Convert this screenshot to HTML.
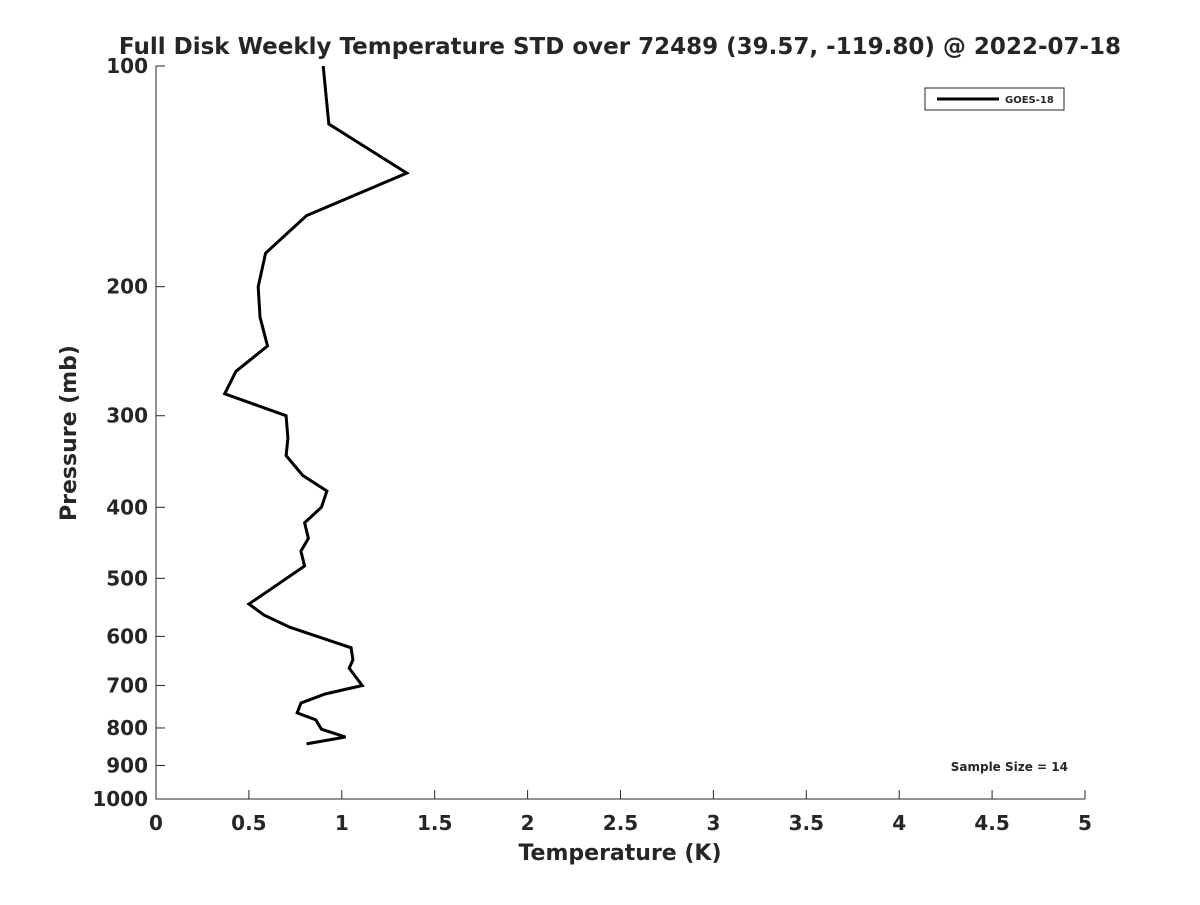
<!DOCTYPE html>
<html><head><meta charset="utf-8"><style>
body{margin:0;background:#fff;}
svg text{font-family:"DejaVu Sans","Liberation Sans",sans-serif;font-weight:bold;fill:#262626;}
</style></head><body>
<svg id="chart" width="1200" height="900" xmlns="http://www.w3.org/2000/svg">
<rect width="1200" height="900" fill="#fff"/>
<text x="620" y="54" text-anchor="middle" font-size="23" fill="#000">Full Disk Weekly Temperature STD over 72489 (39.57, -119.80) @ 2022-07-18</text>
<g id="axes"></g>
<polyline id="series" fill="none" stroke="#000" stroke-width="3"/>
<g>
<rect x="925" y="88" width="139" height="22" fill="#fff" stroke="#262626" stroke-width="1"/>
<line x1="937" y1="99" x2="999" y2="99" stroke="#000" stroke-width="3"/>
<text x="1005" y="103" font-size="10" fill="#000">GOES-18</text>
</g>
<text x="1068" y="771" text-anchor="end" font-size="12" fill="#000">Sample Size = 14</text>
<text x="620" y="860" text-anchor="middle" font-size="22">Temperature (K)</text>
<text transform="translate(76,433) rotate(-90)" text-anchor="middle" font-size="22">Pressure (mb)</text>
</svg>
<script>
const temps=[0.90,0.93,1.35,0.81,0.59,0.55,0.56,0.60,0.43,0.37,0.70,0.71,0.70,0.79,0.92,0.89,0.80,0.82,0.78,0.80,0.61,0.50,0.58,0.72,1.05,1.06,1.04,1.11,0.91,0.78,0.76,0.86,0.89,1.02,0.81];
const pressures=[100,120,140,160,180,200,220,241,261,280,300,322,340,362,380,400,420,441,459,481,519,542,561,583,622,646,663,700,719,740,763,780,803,823,841];
const xTicks=[0,0.5,1,1.5,2,2.5,3,3.5,4,4.5,5];
const xTickLabels=["0","0.5","1","1.5","2","2.5","3","3.5","4","4.5","5"];
const yTicks=[100,200,300,400,500,600,700,800,900,1000];
const X0=156,X1=1085,Y0=66,Y1=799;
const xs=t=>X0+(t-0)/5*(X1-X0);
const ys=p=>Y0+Math.log10(p/100)*(Y1-Y0);
const NS="http://www.w3.org/2000/svg";
const g=document.getElementById('axes');
function mk(tag,attrs){const e=document.createElementNS(NS,tag);for(const k in attrs)e.setAttribute(k,attrs[k]);return e;}
let ax=mk('path',{d:`M${X0},${Y0}V${Y1}H${X1}`,fill:'none',stroke:'#262626','stroke-width':1});


g.appendChild(ax);
xTicks.forEach((t,i)=>{
 const x=xs(t);
 let l=mk('line',{x1:x,y1:Y1,x2:x,y2:Y1-9,stroke:'#262626'});
 
 
 g.appendChild(l);
 let tx=mk('text',{x:x,y:830,'text-anchor':'middle','font-size':20});
 tx.textContent=xTickLabels[i];
 
 
 g.appendChild(tx);
});
yTicks.forEach(p=>{
 const y=ys(p);
 let l=mk('line',{x1:X0,y1:y,x2:X0+9,y2:y,stroke:'#262626'});
 
 
 g.appendChild(l);
 let tx=mk('text',{x:148,y:y+7,'text-anchor':'end','font-size':20});
 tx.textContent=String(p);
 
 
 g.appendChild(tx);
});
document.getElementById('series').setAttribute('points',temps.map((t,i)=>xs(t).toFixed(1)+','+ys(pressures[i]).toFixed(1)).join(' '));
</script>
</body></html>
